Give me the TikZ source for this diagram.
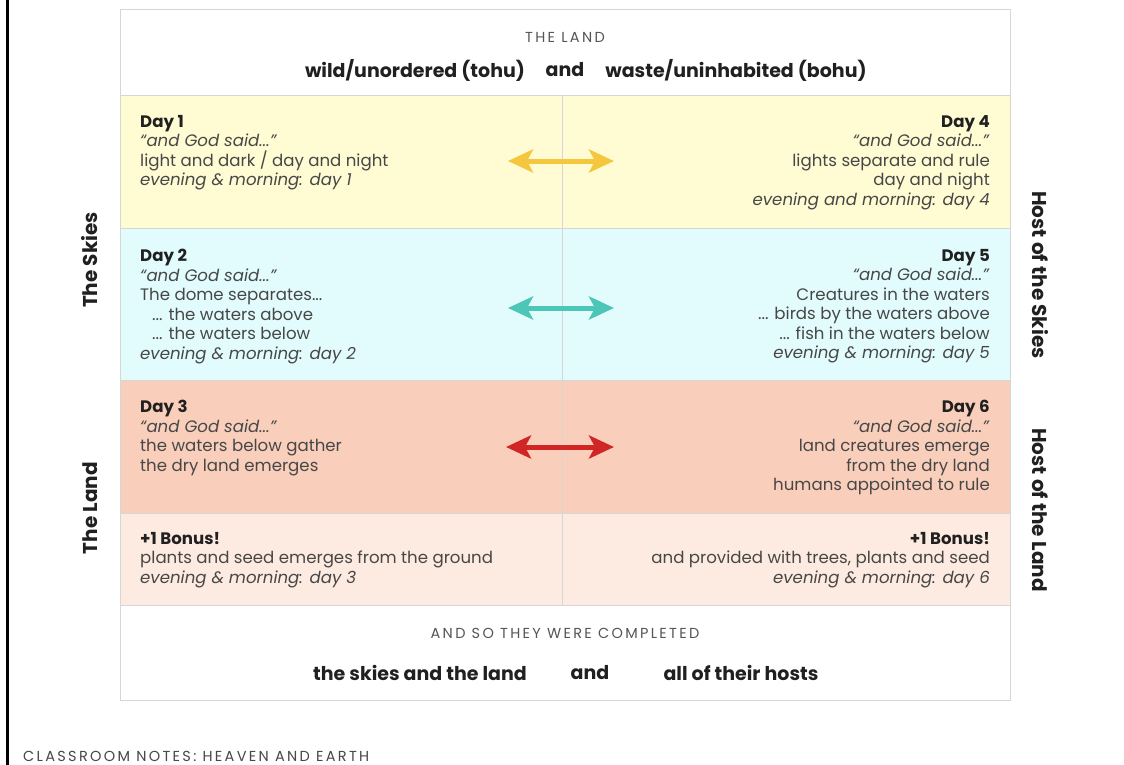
\documentclass[tikz,border=0pt]{standalone}
\usepackage{fontspec}
\setmainfont{Poppins}
\usetikzlibrary{arrows.meta}

\definecolor{skyyellow}{HTML}{FFFBD3}
\definecolor{skyblue}{HTML}{E2FCFE}
\definecolor{landsalmon}{HTML}{F9CFBB}
\definecolor{landpeach}{HTML}{FDEAE0}
\definecolor{gridgray}{HTML}{D6D6D6}
\definecolor{bodygray}{HTML}{474747}
\definecolor{headdark}{HTML}{202020}
\definecolor{capgray}{HTML}{555555}
\definecolor{arrowyellow}{HTML}{F4C73E}
\definecolor{arrowteal}{HTML}{4CC6B6}
\definecolor{arrowred}{HTML}{D12626}

\tikzset{
  daytext/.style={font=\fontsize{16.6}{19.5}\selectfont, text=bodygray, inner sep=0pt},
  leftday/.style={daytext, anchor=north west, align=left},
  rightday/.style={daytext, anchor=north east, align=right},
  sidelabel/.style={font=\fontsize{20}{22}\selectfont\bfseries, text=headdark, inner sep=0pt},
  headline/.style={font=\fontsize{19}{22}\selectfont\bfseries, text=headdark, inner sep=0pt},
  capline/.style={font=\fontsize{14.5}{17}\selectfont\addfontfeatures{LetterSpace=16}, text=capgray, inner sep=0pt},
  pairarrow/.style={line width=5pt, {Stealth[length=25pt,width=23pt,inset=6pt]}-{Stealth[length=25pt,width=23pt,inset=6pt]}}
}

\begin{document}
\begin{tikzpicture}[x=1pt, y=-1pt]
	\useasboundingbox (0,0) rectangle (1124,765);
	\fill[white] (0,0) rectangle (1124,765);

	% frame edge on the left
	\fill[black] (6,0) rectangle (9,765);

	% rows
	\fill[skyyellow] (120,96) rectangle (1010,228);
	\fill[skyblue] (120,228) rectangle (1010,380);
	\fill[landsalmon] (120,380) rectangle (1010,513);
	\fill[landpeach] (120,513) rectangle (1010,605);
	\draw[gridgray, line width=1pt] (120,10) rectangle (1010,700);
	\foreach \y in {96,228,380,513,605}
		\draw[gridgray, line width=1pt] (120,\y) -- (1010,\y);
	\draw[gridgray, line width=1pt] (562,96) -- (562,605);

	% header
	\node[capline] (theland) at (565,37) {THE LAND};
	\node[headline] (tohu) at (415,70) {wild/unordered (tohu)};
	\node[headline] (headand) at (565,70) {and};
	\node[headline] (bohu) at (736,70) {waste/uninhabited (bohu)};

	% left column
	\node[leftday] (day1) at (140,115) {\textbf{\color{headdark}Day 1}\\ \textit{“and God said...”}\\ light and dark / day and night\\ \textit{evening \& morning: day 1}};
	\node[leftday] (day2) at (140,249) {\textbf{\color{headdark}Day 2}\\ \textit{“and God said...”}\\ The dome separates...\\ \hspace*{12pt}... the waters above\\ \hspace*{12pt}... the waters below\\ \textit{evening \& morning: day 2}};
	\node[leftday] (day3) at (140,400) {\textbf{\color{headdark}Day 3}\\ \textit{“and God said...”}\\ the waters below gather\\ the dry land emerges};
	\node[leftday] (bonus3) at (140,532) {\textbf{\color{headdark}+1 Bonus!}\\ plants and seed emerges from the ground\\ \textit{evening \& morning: day 3}};

	% right column
	\node[rightday] (day4) at (990,115) {\textbf{\color{headdark}Day 4}\\ \textit{“and God said...”}\\ lights separate and rule\\ day and night\\ \textit{evening and morning: day 4}};
	\node[rightday] (day5) at (990,249) {\textbf{\color{headdark}Day 5}\\ \textit{“and God said...”}\\ Creatures in the waters\\ ... birds by the waters above\\ ... fish in the waters below\\ \textit{evening \& morning: day 5}};
	\node[rightday] (day6) at (990,400) {\textbf{\color{headdark}Day 6}\\ \textit{“and God said...”}\\ land creatures emerge\\ from the dry land\\ humans appointed to rule};
	\node[rightday] (bonus6) at (990,532) {\textbf{\color{headdark}+1 Bonus!}\\ and provided with trees, plants and seed\\ \textit{evening \& morning: day 6}};

	% arrows between the days
	\coordinate (a14w) at (508,161);
	\coordinate (a14e) at (614,161);
	\coordinate (a25w) at (508,308);
	\coordinate (a25e) at (614,308);
	\coordinate (a36w) at (506,447);
	\coordinate (a36e) at (614,447);
	\draw[pairarrow, arrowyellow] (a14w) -- (a14e);
	\draw[pairarrow, arrowteal] (a25w) -- (a25e);
	\draw[pairarrow, arrowred] (a36w) -- (a36e);

	% side labels
	\node[sidelabel, rotate=90] (skies) at (90,260) {The Skies};
	\node[sidelabel, rotate=90] (land) at (90,508) {The Land};
	\node[sidelabel, rotate=-90] (hostskies) at (1040,275) {Host of the Skies};
	\node[sidelabel, rotate=-90] (hostland) at (1040,510) {Host of the Land};

	% footer
	\node[capline] (completed) at (565,633) {AND SO THEY WERE COMPLETED};
	\node[headline] (skiesland) at (420,673) {the skies and the land};
	\node[headline] (footand) at (590,673) {and};
	\node[headline] (hosts) at (741,673) {all of their hosts};

	% caption below
	\node[capline, anchor=base west, text=bodygray] (caption) at (23,761) {CLASSROOM NOTES: HEAVEN AND EARTH};
\end{tikzpicture}
\end{document}
